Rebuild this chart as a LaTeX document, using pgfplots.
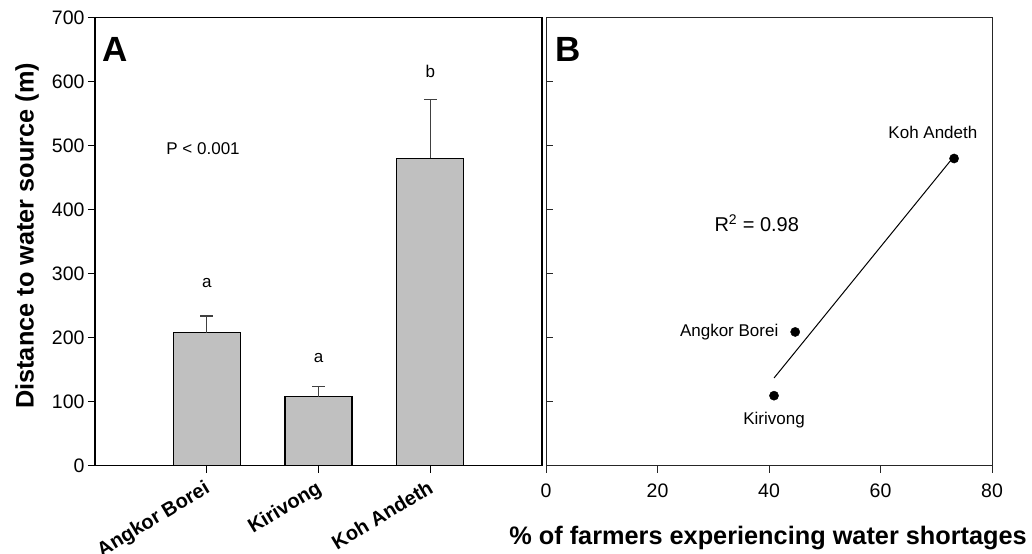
\documentclass[border=0pt]{standalone}
\usepackage{pgfplots}
\pgfplotsset{compat=1.18}
\usepackage{fontspec}
\setmainfont{Liberation Sans}

\definecolor{barfill}{RGB}{192,192,192}

\begin{document}
\begin{tikzpicture}
\path[use as bounding box] (0,0) rectangle (1032bp,554bp);

% Panel A: mean distance to water source per commune
\begin{axis}[
  at={(95bp,88.3bp)}, anchor=south west,
  scale only axis, width=447bp, height=448bp,
  xmin=-1, xmax=3, ymin=0, ymax=700,
  enlargelimits=false,
  axis line style={line width=1.3bp},
  xtick={0,1,2},
  xticklabels={Angkor Borei, Kirivong, Koh Andeth},
  x tick label style={xshift=-3bp, yshift=-5bp, rotate=31, anchor=north east,
    inner sep=1bp, font=\fontsize{20bp}{20bp}\selectfont\bfseries},
  ytick={0,100,...,700},
  y tick label style={font=\fontsize{19.5bp}{20bp}\selectfont},
  /pgf/number format/assume math mode=true,
  tick align=outside, xtick pos=left, ytick pos=left,
  major tick length=7bp,
  tick style={line width=1bp, black},
  ylabel={Distance to water source (m)},
  ylabel style={at={(axis description cs:-0.152,0.513)}, anchor=center,
    font=\fontsize{25.3bp}{26bp}\selectfont\bfseries},
]
\addplot[ybar, bar width=0.6, fill=barfill, draw=black, line width=1.3bp,
  error bars/.cd, y dir=plus, y explicit,
  error bar style={line width=1.3bp, black!75},
  error mark options={rotate=90, line width=1.3bp, black!75, mark size=6.5bp}]
  coordinates {(0,208) +- (0,26) (1,108) +- (0,16) (2,480) +- (0,92)};

\begin{scope}[font=\fontsize{17bp}{17bp}\selectfont]
\node at (axis cs:0,285) {a};
\node at (axis cs:1,168) {a};
\node at (axis cs:2,616) {b};
\node at (axis cs:-0.033,495) {P < 0.001};
\end{scope}
\node[font=\fontsize{35bp}{35bp}\selectfont\bfseries] at (rel axis cs:0.046,0.929) {A};
\end{axis}

% Panel B: distance against share of farmers with water shortages
\begin{axis}[
  at={(546bp,88.3bp)}, anchor=south west,
  scale only axis, width=446bp, height=448bp,
  xmin=0, xmax=80, ymin=0, ymax=700,
  enlargelimits=false,
  axis line style={line width=1bp, black!85},
  xtick={0,20,...,80},
  ytick={0,100,...,700}, yticklabels={},
  xtick pos=left, ytick pos=left,
  xtick align=outside, ytick align=inside,
  major tick length=7bp,
  tick style={line width=1bp, black!85},
  x tick label style={font=\fontsize{19.5bp}{20bp}\selectfont, yshift=-8bp},
  /pgf/number format/assume math mode=true,
  xlabel={\% of farmers experiencing water shortages},
  xlabel style={at={(axis description cs:0.498,-0.161)}, anchor=center,
    font=\fontsize{25.3bp}{26bp}\selectfont\bfseries},
]
\addplot[line width=1bp, black] coordinates {(40.9,137) (73.2,483.5)};
\addplot[only marks, mark=*, mark size=4.6bp, black]
  coordinates {(44.7,209) (40.9,109.4) (73.2,480)};

\begin{scope}[font=\fontsize{17bp}{17bp}\selectfont]
\node at (axis cs:69.4,520) {Koh Andeth};
\node[anchor=east] at (axis cs:42.3,209) {Angkor Borei};
\node at (axis cs:40.9,71.4) {Kirivong};
\end{scope}
\node[font=\fontsize{20bp}{20bp}\selectfont] at (axis cs:37.8,379) {R\textsuperscript{2} = 0.98};
\node[font=\fontsize{35bp}{35bp}\selectfont\bfseries] at (rel axis cs:0.049,0.930) {B};
\end{axis}
\end{tikzpicture}
\end{document}
